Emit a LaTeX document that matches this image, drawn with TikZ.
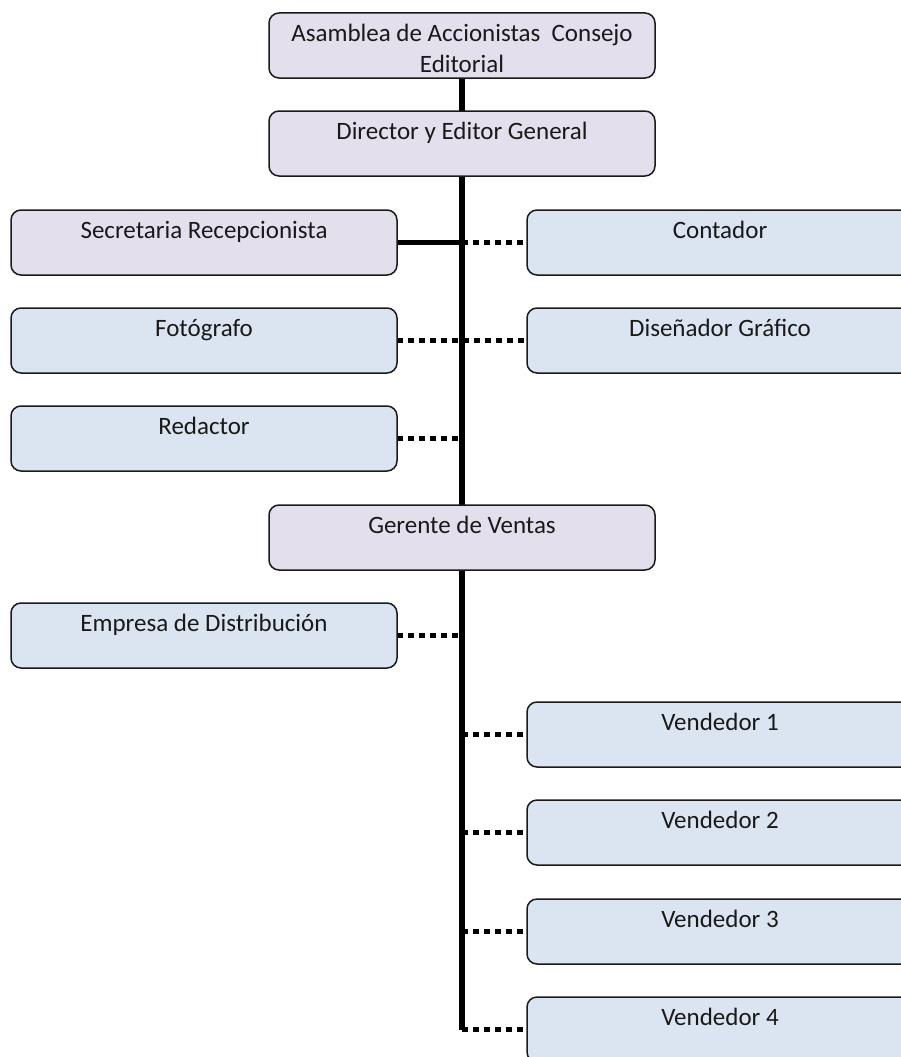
\documentclass[tikz,border=0pt]{standalone}
\usepackage{fontspec}
\setmainfont{Carlito}
\usetikzlibrary{backgrounds}
\definecolor{lila}{HTML}{E4DFEC}
\definecolor{celeste}{HTML}{DBE5F1}
\definecolor{borde}{HTML}{1A1A1A}
\tikzset{
  orgbox/.style={draw=borde, line width=1.5pt, rounded corners=10pt, minimum width=386pt, minimum height=65pt, inner sep=0pt, outer sep=0pt},
  lilabox/.style={orgbox, fill=lila},
  celbox/.style={orgbox, fill=celeste},
  lbl/.style={anchor=base, inner sep=0pt, font=\fontsize{25}{31}\selectfont, text=black!90, align=center},
  trunkline/.style={line width=5.5pt},
  solidlink/.style={line width=5.5pt},
  dotlink/.style={line width=5.5pt, dash pattern=on 6pt off 5pt},
}
\begin{document}
\begin{tikzpicture}[x=1pt,y=-1pt]
\useasboundingbox (0,0) rectangle (901,1057);
\clip (0,0) rectangle (901,1057);
% boxes
\node[lilabox] (asam) at (462,45.5) {};
\node[lilabox] (dir)  at (462,143.5) {};
\node[lilabox] (sec)  at (204,242.5) {};
\node[celbox]  (cont) at (720,242.5) {};
\node[celbox]  (fot)  at (204,340.5) {};
\node[celbox]  (dis)  at (720,340.5) {};
\node[celbox]  (red)  at (204,438.5) {};
\node[lilabox] (ger)  at (462,537.5) {};
\node[celbox]  (emp)  at (204,635.5) {};
\node[celbox]  (v1)   at (720,734.5) {};
\node[celbox]  (v2)   at (720,832.5) {};
\node[celbox]  (v3)   at (720,931.5) {};
\node[celbox]  (v4)   at (720,1029.5) {};
\coordinate (trunkend) at (462,1030);
% texts
\node[lbl] (asam-t) at ([yshift=-59.5pt]asam.north) {Asamblea de Accionistas\ \ Consejo\\Editorial};
\node[lbl] (dir-t)  at ([yshift=-28pt]dir.north)  {Director y Editor General};
\node[lbl] (sec-t)  at ([yshift=-28pt]sec.north)  {Secretaria Recepcionista};
\node[lbl] (cont-t) at ([yshift=-28pt]cont.north) {Contador};
\node[lbl] (fot-t)  at ([yshift=-28pt]fot.north)  {Fotógrafo};
\node[lbl] (dis-t)  at ([yshift=-28pt]dis.north)  {Diseñador Gráfico};
\node[lbl] (red-t)  at ([yshift=-28pt]red.north)  {Redactor};
\node[lbl] (ger-t)  at ([yshift=-28pt]ger.north)  {Gerente de Ventas};
\node[lbl] (emp-t)  at ([yshift=-28pt]emp.north)  {Empresa de Distribución};
\node[lbl] (v1-t)   at ([yshift=-28pt]v1.north)   {Vendedor 1};
\node[lbl] (v2-t)   at ([yshift=-28pt]v2.north)   {Vendedor 2};
\node[lbl] (v3-t)   at ([yshift=-28pt]v3.north)   {Vendedor 3};
\node[lbl] (v4-t)   at ([yshift=-28pt]v4.north)   {Vendedor 4};
% connectors
\begin{pgfonlayer}{background}
\draw[trunkline] (asam.south) -- (trunkend);
\draw[solidlink] (sec.east) -- (sec.east -| asam.south);
\draw[dotlink] (sec.east -| asam.south) -- (cont.west);
\draw[dotlink] (fot.east) -- (dis.west);
\draw[dotlink] (red.east) -- (red.east -| asam.south);
\draw[dotlink] (emp.east) -- (emp.east -| asam.south);
\draw[dotlink] (v1.west -| asam.south) -- (v1.west);
\draw[dotlink] (v2.west -| asam.south) -- (v2.west);
\draw[dotlink] (v3.west -| asam.south) -- (v3.west);
\draw[dotlink] (v4.west -| asam.south) -- (v4.west);
\end{pgfonlayer}
\end{tikzpicture}
\end{document}
